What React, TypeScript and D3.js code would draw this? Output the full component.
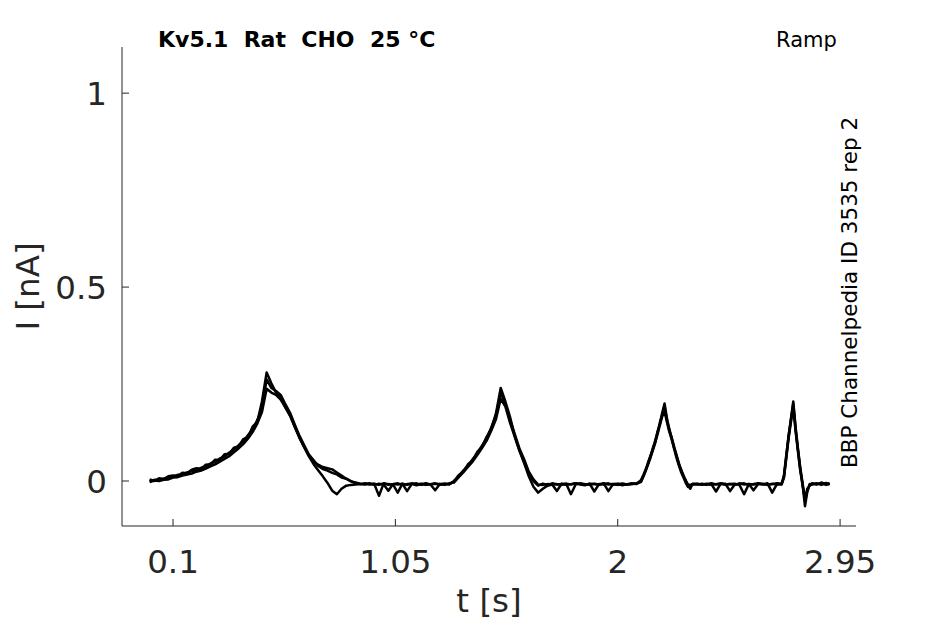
import React from "react";
import * as d3 from "d3";

const TIME = [
  0, 0.02, 0.04, 0.06, 0.08, 0.1, 0.12, 0.14, 0.16, 0.18, 0.2, 0.22, 0.24, 0.26, 0.28, 0.3, 0.32, 0.34, 0.36, 0.38, 0.4, 0.42, 0.44, 0.46, 0.48, 0.5,
  0.52, 0.54, 0.56, 0.58, 0.6, 0.62, 0.64, 0.66, 0.68, 0.7, 0.72, 0.74, 0.76, 0.78, 0.8, 0.82, 0.84, 0.86, 0.88, 0.9,
  0.92, 0.94, 0.96, 0.98, 1, 1.02, 1.04, 1.06, 1.08, 1.1, 1.12, 1.14, 1.16, 1.18, 1.2, 1.22, 1.24, 1.26, 1.28,
  1.3, 1.32, 1.34, 1.36, 1.38, 1.4, 1.42, 1.44, 1.46, 1.48, 1.5, 1.52, 1.54, 1.56, 1.58, 1.6, 1.62, 1.64, 1.66,
  1.68, 1.7, 1.72, 1.74, 1.76, 1.78, 1.8, 1.82, 1.84, 1.86, 1.88, 1.9, 1.92, 1.94, 1.96, 1.98, 2, 2.02, 2.04, 2.06, 2.08,
  2.1, 2.11, 2.12, 2.13, 2.14, 2.15, 2.16, 2.17, 2.18, 2.19, 2.2, 2.21, 2.22, 2.23, 2.24, 2.25, 2.26, 2.27, 2.28, 2.29, 2.3, 2.31, 2.32,
  2.34, 2.36, 2.38, 2.4, 2.42, 2.44, 2.46, 2.48, 2.5, 2.52, 2.54, 2.56, 2.58, 2.6, 2.62, 2.64, 2.66, 2.68, 2.7,
  2.71, 2.72, 2.73, 2.74, 2.75, 2.76, 2.77, 2.78, 2.79, 2.8, 2.81, 2.82, 2.83,
  2.85, 2.87, 2.89, 2.905,
];

const TRACE_1 = [
  0.0, 0.003, 0.002, 0.006, 0.008, 0.011, 0.016, 0.017, 0.022, 0.025, 0.028, 0.034, 0.037, 0.045, 0.049, 0.058, 0.063, 0.073, 0.08, 0.092, 0.102, 0.118, 0.133, 0.157, 0.187, 0.262,
  0.24, 0.232, 0.222, 0.198, 0.176, 0.146, 0.117, 0.093, 0.069, 0.054, 0.039, 0.031, 0.027, 0.021, 0.017, 0.009, 0.006, -0.001, -0.004, -0.007,
  -0.008, -0.006, -0.01, -0.007, -0.009, -0.025, -0.008, -0.006, -0.01, -0.008, -0.007, -0.011, -0.008, -0.006, -0.009, -0.024, -0.008, -0.007, -0.009,
  0.0, 0.012, 0.027, 0.039, 0.056, 0.071, 0.091, 0.109, 0.139, 0.169, 0.228, 0.198, 0.158, 0.121, 0.084, 0.056, 0.024, 0.004, -0.009,
  -0.01, -0.008, -0.009, -0.026, -0.007, -0.01, -0.008, -0.006, -0.009, -0.011, -0.007, -0.008, -0.01, -0.006, -0.009, -0.008, -0.007, -0.011, -0.008, -0.006, -0.008,
  0.003, 0.016, 0.031, 0.046, 0.066, 0.082, 0.104, 0.124, 0.151, 0.171, 0.19, 0.158, 0.136, 0.111, 0.091, 0.067, 0.049, 0.029, 0.016, 0.001, -0.009, -0.01, -0.008,
  -0.009, -0.007, -0.01, -0.008, -0.027, -0.007, -0.009, -0.008, -0.01, -0.006, -0.009, -0.008, -0.024, -0.008, -0.007, -0.01, -0.008, -0.006, -0.007,
  0.014, 0.066, 0.114, 0.161, 0.2, 0.138, 0.084, 0.034, -0.006, -0.052, -0.024, -0.01, -0.006,
  -0.009, -0.004, -0.008, -0.006,
];

const TRACE_2 = [
  0.004, 0.0, 0.007, 0.005, 0.012, 0.014, 0.013, 0.021, 0.02, 0.029, 0.033, 0.031, 0.042, 0.043, 0.055, 0.054, 0.069, 0.07, 0.086, 0.089, 0.108, 0.113, 0.14, 0.152, 0.205, 0.28,
  0.252, 0.228, 0.214, 0.19, 0.168, 0.14, 0.112, 0.088, 0.066, 0.05, 0.042, 0.036, 0.033, 0.03, 0.022, 0.014, 0.006, 0.0, -0.006, -0.008,
  -0.006, -0.009, -0.007, -0.01, -0.006, -0.008, -0.009, -0.03, -0.007, -0.01, -0.006, -0.009, -0.007, -0.01, -0.008, -0.006, -0.01, -0.007, -0.008,
  -0.002, 0.015, 0.024, 0.043, 0.053, 0.075, 0.088, 0.114, 0.135, 0.175, 0.24, 0.205, 0.165, 0.116, 0.08, 0.05, 0.02, 0.0, -0.012,
  -0.007, -0.01, -0.006, -0.009, -0.008, -0.007, -0.034, -0.009, -0.006, -0.008, -0.01, -0.007, -0.009, -0.006, -0.026, -0.008, -0.01, -0.007, -0.009, -0.008, -0.006,
  0.0, 0.013, 0.028, 0.049, 0.063, 0.085, 0.1, 0.128, 0.146, 0.176, 0.2, 0.163, 0.131, 0.114, 0.087, 0.07, 0.045, 0.031, 0.013, 0.003, -0.012, -0.02, -0.007,
  -0.007, -0.01, -0.008, -0.006, -0.009, -0.008, -0.007, -0.026, -0.009, -0.008, -0.006, -0.01, -0.008, -0.007, -0.009, -0.006, -0.03, -0.008, -0.009,
  0.01, 0.062, 0.118, 0.157, 0.205, 0.134, 0.08, 0.03, -0.01, -0.065, -0.028, -0.008, -0.009,
  -0.006, -0.01, -0.005, -0.009,
];

const TRACE_3 = [
  -0.003, 0.001, 0.0, 0.003, 0.004, 0.009, 0.01, 0.014, 0.017, 0.019, 0.024, 0.027, 0.032, 0.038, 0.043, 0.05, 0.057, 0.064, 0.074, 0.084, 0.095, 0.109, 0.126, 0.148, 0.178, 0.238,
  0.228, 0.222, 0.21, 0.19, 0.17, 0.14, 0.112, 0.088, 0.064, 0.044, 0.028, 0.012, -0.005, -0.025, -0.034, -0.02, -0.012, -0.01, -0.009, -0.008,
  -0.009, -0.007, -0.008, -0.038, -0.006, -0.01, -0.008, -0.009, -0.007, -0.026, -0.008, -0.006, -0.01, -0.008, -0.009, -0.007, -0.008, -0.01, -0.006,
  -0.004, 0.009, 0.022, 0.036, 0.05, 0.067, 0.085, 0.104, 0.13, 0.16, 0.212, 0.192, 0.15, 0.114, 0.078, 0.046, 0.012, -0.015, -0.03,
  -0.02, -0.012, -0.009, -0.008, -0.01, -0.007, -0.009, -0.006, -0.008, -0.01, -0.007, -0.027, -0.008, -0.009, -0.006, -0.01, -0.008, -0.007, -0.009, -0.008, -0.007,
  -0.002, 0.012, 0.027, 0.043, 0.06, 0.079, 0.098, 0.12, 0.144, 0.166, 0.18, 0.152, 0.128, 0.108, 0.085, 0.062, 0.042, 0.024, 0.01, -0.004, -0.015, -0.012, -0.009,
  -0.008, -0.009, -0.007, -0.01, -0.008, -0.006, -0.009, -0.008, -0.007, -0.01, -0.034, -0.008, -0.009, -0.006, -0.008, -0.01, -0.007, -0.009, -0.008,
  0.008, 0.058, 0.11, 0.152, 0.19, 0.128, 0.076, 0.026, -0.012, -0.045, -0.02, -0.012, -0.008,
  -0.008, -0.006, -0.01, -0.007,
];

const TRACES = [TRACE_1, TRACE_2, TRACE_3];
const X_TICKS = [0.1, 1.05, 2, 2.95];
const X_TICK_LABELS = ["0.1", "1.05", "2", "2.95"];
const Y_TICKS = [0, 0.5, 1];
const Y_TICK_LABELS = ["0", "0.5", "1"];

const TITLE = "Kv5.1  Rat  CHO  25 °C";
const PROTOCOL = "Ramp";
const SIDE_NOTE = "BBP Channelpedia ID 3535 rep 2";
const X_LABEL = "t [s]";
const Y_LABEL = "I [nA]";

const W = 945;
const H = 624;
const FONT = "'DejaVu Sans', sans-serif";
const AXIS_COLOR = "#262626";

export default function App() {
  const x = d3.scaleLinear().domain([-0.118, 3.018]).range([122, 856]);
  const y = d3.scaleLinear().domain([-0.116, 1.119]).range([526, 47]);
  const line = d3
    .line<number>()
    .x((_, i) => x(TIME[i]))
    .y((d) => y(d));

  const [x0, x1] = x.range();
  const [yb, yt] = y.range();

  return (
    <svg
      width={W}
      height={H}
      viewBox={`0 0 ${W} ${H}`}
      style={{ position: "absolute", left: 0, top: 0, background: "#fff" }}
      fontFamily={FONT}
    >
      <rect x={0} y={0} width={W} height={H} fill="#fff" />
      {TRACES.map((tr, i) => (
        <path key={i} d={line(tr) || ""} fill="none" stroke="#000" strokeWidth={2.5} strokeLinejoin="round" />
      ))}

      {/* axes */}
      <line x1={x0} x2={x0} y1={yb} y2={yt} stroke={AXIS_COLOR} strokeWidth={1} />
      <line x1={x0} x2={x1} y1={yb} y2={yb} stroke={AXIS_COLOR} strokeWidth={1} />
      {X_TICKS.map((t, i) => (
        <g key={t}>
          <line x1={x(t)} x2={x(t)} y1={yb} y2={yb - 7} stroke={AXIS_COLOR} strokeWidth={1} />
          <text x={x(t)} y={573} textAnchor="middle" fontSize={32.5} fill={AXIS_COLOR}>
            {X_TICK_LABELS[i]}
          </text>
        </g>
      ))}
      {Y_TICKS.map((v, i) => (
        <g key={v}>
          <line x1={x0} x2={x0 + 7} y1={y(v)} y2={y(v)} stroke={AXIS_COLOR} strokeWidth={1} />
          <text x={107} y={y(v)} dy="0.36em" textAnchor="end" fontSize={32.5} fill={AXIS_COLOR}>
            {Y_TICK_LABELS[i]}
          </text>
        </g>
      ))}

      <text x={(x0 + x1) / 2} y={612} textAnchor="middle" fontSize={32.5} fill={AXIS_COLOR}>
        {X_LABEL}
      </text>
      <text transform={`translate(39,${(yb + yt) / 2}) rotate(-90)`} textAnchor="middle" fontSize={32.5} fill={AXIS_COLOR}>
        {Y_LABEL}
      </text>

      <text x={158} y={47} fontSize={22} fontWeight="bold" fill="#000" style={{ whiteSpace: "pre" }}>
        {TITLE}
      </text>
      <text x={776} y={47} fontSize={21} fill="#000">
        {PROTOCOL}
      </text>
      <text transform="translate(857,468) rotate(-90)" fontSize={21.5} fill="#000">
        {SIDE_NOTE}
      </text>
    </svg>
  );
}
